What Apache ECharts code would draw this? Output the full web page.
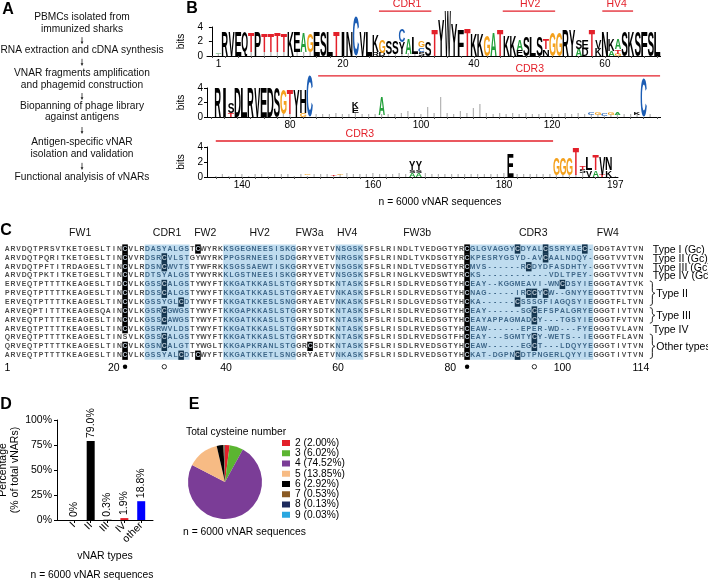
<!DOCTYPE html>
<html><head><meta charset="utf-8">
<script src="https://cdn.jsdelivr.net/npm/echarts@6/dist/echarts.min.js"></script>
<style>html,body{margin:0;padding:0;background:#fff}#c{width:708px;height:581px}</style>
</head><body><div id="c"></div>
<script>
// ================= DATA =================
// Panel A – workflow steps
const flowSteps = [
  ['PBMCs isolated from', 'immunized sharks'],
  ['RNA extraction and cDNA synthesis'],
  ['VNAR fragments amplification', 'and phagemid construction'],
  ['Biopanning of phage library', 'against antigens'],
  ['Antigen-specific vNAR', 'isolation and validation'],
  ['Functional analyisis of vNARs']
];

// Panel B – sequence logo, letters stacked bottom->top as "letter:bits" ("~" = low-information residues)
const logoRow1 = [
 "~:0.3 A:0.2","R:3.35","V:3.35","E:3.35","Q:3.35","~:0.6 T:2.6","P:3.35","~:0.6 T:2.5","~:0.6 T:2.5","~:0.5 T:2.6",
 "~:0.6 T:2.5","K:3.35","~:0.5 E:2.8","~:0.5 A:2.6","~:0.5 G:2.6","E:3.35","S:3.35","L:3.35","T:3.35","I:3.35",
 "N:3.35","C:5.5","V:3.35","L:3.35","R:0.5 K:2.25","D:0.45 G:1.85","~:0.3 S:1.8","~:0.3 S:1.8","~:0.3 Y:1.6 C:1.8","~:0.3 A:2.2",
 "~:0.3 L:2.2","S:0.6 C:0.6 G:0.9","S:2.0","T:3.6","Y:4.9","W:6.1","Y:4.4","F:3.5","T:3.7","K:3.0",
 "K:3.0","G:2.8","A:3.2","T:3.5","K:2.9","K:2.9","E:0.8 A:1.5","S:2.7","L:2.7","S:2.7",
 "N:0.9 T:1.4","G:3.2","G:3.2","R:3.5","Y:3.5","A:1.0 S:1.3","D:1.0 E:1.3","T:3.5","K:1.0 V:1.3","N:3.35",
 "A:0.7 K:1.6","G:0.3 T:0.6 A:1.4","S:3.35","K:3.35","S:3.35","F:3.35","S:3.35","L:3.35"
];
const logoRow2 = [
 "R:4.1","I:4.1","T:0.5 S:1.5","D:4.1","L:4.1","R:4.1","V:4.1","E:4.1","D:4.1","S:4.1",
 "~:0.3 G:3.4","~:0.4 T:3.3","Y:3.7","G:0.5 H:3.2","C:5.6","~:0.4","~:0.3","~:0.4","~:0.5","~:0.3",
 "~:0.4","~:0.5 E:0.7 K:0.9","~:0.3","~:0.4","~:0.3","~:0.3 A:2.5","~:0.4","~:0.3","~:0.6","~:0.9",
 "~:0.5","~:0.4","~:1.4","~:0.6","~:2.8","~:0.5","~:0.4","~:0.8","~:0.5","~:1.2",
 "~:1.8","~:0.6","~:0.4","~:0.5","~:0.3","~:0.6","~:0.4","~:0.5","~:0.3","~:0.4",
 "~:0.6","~:0.4","~:0.3","~:0.5","~:0.4","~:0.5","~:0.4","~:0.3 C:0.3","~:0.3 G:0.3","~:0.2 C:0.3",
 "~:0.3 G:0.4","~:0.3 A:0.3","~:0.4","~:0.3","~:0.3 K:0.4","C:5.3","~:0.3"
];
const logoRow3 = [
 "~:0.2","~:0.3","~:0.2","~:0.4","~:0.3","~:0.2","~:0.3","~:0.4","~:0.2","~:0.3",
 "~:0.3","~:0.4","~:0.2","~:0.3","~:0.2 G:0.2","~:0.3","~:0.4","~:0.3","~:0.2 T:0.2","~:0.3 G:0.2",
 "~:0.5","~:0.3","~:0.4","~:0.3","~:0.5","~:0.3","~:0.4","~:0.3","~:0.5","~:0.4",
 "A:0.5 S:0.4 Y:1.2","A:0.5 S:0.4 Y:1.2","~:0.5","~:0.4","~:0.3","~:0.4","~:0.3","~:0.4","~:0.3","~:0.3",
 "~:0.4","~:0.3","~:0.4","~:0.3","~:0.5","E:3.0","~:0.3","~:0.4","~:0.3","~:0.3",
 "~:0.4","~:0.3","~:0.3 G:2.3","~:0.3 G:2.3","~:0.3 G:2.2","~:0.3 T:3.7","~:0.5 S:0.5 T:0.5","V:0.9 L:1.7","A:0.9 T:2.1","T:0.3 V:2.3",
 "K:0.9 N:1.7","~:0.2"
];
const logoStart = [1, 69, 136];
const logoTickLabels = [[1, 20, 40, 60], [80, 100, 120], [140, 160, 180, 197]];
const logoRegionNames = [['CDR1', 'HV2', 'HV4'], ['CDR3'], ['CDR3']];
const logoRegionSpans = [[[25.5, 33.5, 29.8], [44.4, 52.4, 48.6], [59.6, 64.3, 61.8]], [[84.3, 136.5, 116.6]], [[136.0, 187.5, 158]]];

// Panel C – alignment
const alignmentRows = [
 "ARVDQTPRSVTKETGESLTINCVLRDASYALGSTCWYRKKSGEGNEESISKGGRYVETVNSGSKSFSLRINDLTVEDGGTYRCGLGVAGGYCDYALCSSRYAEC-GDGTAVTVN",
 "ARVDQTPQRITKETGESLTINCVVRDSRCVLSTGYWYRKPPGSRNEESISDGGRYVETVNRGSKSFSLRINDLTVKDSGTYRCKPESRYGSYD-AVCAALNDQY-GGGTVVTVN",
 "ARVDQTPFTITRDAGESLTINCVLRDSNCWVTSTYWFRKKSGSSAEWTISKGGRYVETVNSGSKSFSLRINDLTVEDSGTYRCMVS------RCDYDFASDHTY-GGGTVVTVN",
 "ARVDQTPKTITKETGESLTINCVLRDTSYALGSTYWYRKKLGSTNEESISKGGRYVETVNSGSKSFSLRINGLKVEDSWTYRCKS------------VDLTPEY-GGGTVVTVN",
 "ERVEQTPTTTTKEAGESLTIDCVLKGSSCALGSTYWYFTKKGATKKASLSTGGRYSDTKNTASKSFSLRISDLRVEDSGTYHCEAY--KGGMEAVI-WNCDSYIEGGGTAVTVK",
 "PRVEQTPTTTTKEAGESLTINCVLRDSSCALGSTYWYFTKKGATKKASLSTGGRYAETVNKASKSFSLRISDLRVEDSGTYHCNAG-----IRCCYCW--GNYYEGGGTTVTVN",
 "ERVEQTPTTTTKEAGESLTINCVLKGSSYGLCDTYWYFTKKGATKKESLSNGGRYAETVNKASKSFSLRISDLGVEDSGTYHCKA------CSSSGFIAGQSYIEGGGTFLTVN",
 "ARVEQPTITTTKEAGESQAINCVLKGSRCGWGSTYWYFTKKGAPKKASLSTGGRYSDTKNTASKSFSLRISDLRVEDSGTYHCEAY------SGCEFSPALGRYEGGGTIVTVN",
 "ARVEQTPTTTTEEAGESLTINCVLKGSSCAWGSTYWYFTKKGATKKASLSTGGRYSDTKNTASKSFSLRISDLRLEDSGTYHCEAYAPPAGMADCY---TGSYIEGGGTFVTVN",
 "ARVEQTPTTTTKEAGESLTINCVLKGSRWVLDSTYWYFTKKGATKKASLSTGGRYSDTKNTASKSFSLRISDLRVEDSGTYHCEAW------EPER-WD---FYEGGGTVLAVN",
 "QRVEQTPTTTTKEAGESLTINSVLKGSSCALGSTYWYFTKKGATKKASLSTGGRYSDTKNTASKSFSLRISDLRVEDSGTFHCEAY---SGMTYCY-WETS--IEGGGTFLAVN",
 "QRVEQTPTTTTKEAGESLTINCVLKGSNCALGTTYWGLTKKGAPKRANLSTGGRCSDTKNTASKSFSLRISDLRVEDSGTYHCEAW------EGCT---LDQYYEGGGTIVTVN",
 "ARVEQTPTTTTKEAGESLTINCVLKGSSYALCDTCWYFTKKGATKKETLSNGGRYAETVNKASKSFSLRISDLRVEDSGTYHCKAT-DGPNCDTPNGERLQYYIEGGGTIVTVN"
];
const alignmentTypeLabels = ['Type I (Gc)', 'Type II (Gc)', 'Type III (Gc)', 'Type IV (Gc)', 'Type II', 'Type III', 'Type IV', 'Other types'];
const alignmentTypeRows = [[1, 1], [2, 2], [3, 3], [4, 4], [5, 7], [8, 9], [10, 10], [11, 13]];
const regionHeaders = ['FW1', 'CDR1', 'FW2', 'HV2', 'FW3a', 'HV4', 'FW3b', 'CDR3', 'FW4'];
const regionHeaderCols = [14, 29.5, 36.3, 46, 54.9, 61.6, 74.1, 94.8, 108.1];
const highlightRanges = [[26, 33], [40, 52], [60, 64], [84, 105]];
const alignmentTickLabels = [1, 20, 40, 60, 80, 100, 114];
const conservedCys = [22, 83];
const cdrCys = [29, 95];

// Panel D – vNAR types
const barCategories = ['I', 'II', 'III', 'IV', 'other'];
const barValues = [0, 79.0, 0.3, 1.9, 18.8];
const barLabels = ['0%', '79.0%', '0.3%', '1.9%', '18.8%'];

// Panel E – total cysteine number
const cysteineNumbers = ['2', '3', '4', '5', '6', '7', '8', '9'];
const cysteinePercents = [2.00, 6.02, 74.52, 13.85, 2.92, 0.53, 0.13, 0.03];

// ================= STYLE / LAYOUT =================
const FF = '"Liberation Sans", Arial, Helvetica, sans-serif';
const LOGO_FONT = 'bold 100px "Liberation Sans"';
const RES_FONT = 'bold 6.8px "Liberation Sans"';
const letterColor = ch => ({A: '#23a03b', G: '#f4a11d', T: '#e3202a', C: '#1c5db4', '~': '#b4b4b4'}[ch] || '#000');
const barColors = ['#000', '#000', '#000', '#e3202a', '#0000ff'];
const pieColors = ['#e3202a', '#5bb531', '#7b3d97', '#f7bb84', '#000000', '#8a5a24', '#1c2a5c', '#2aa7e0'];

const mctx = document.createElement('canvas').getContext('2d');
mctx.font = LOGO_FONT; mctx.textBaseline = 'middle'; mctx.textAlign = 'left';
const metricCache = {};
function metrics(ch) {
  if (!metricCache[ch]) {
    const m = mctx.measureText(ch);
    metricCache[ch] = {l: m.actualBoundingBoxLeft, w: m.actualBoundingBoxLeft + m.actualBoundingBoxRight,
      a: m.actualBoundingBoxAscent, h: m.actualBoundingBoxAscent + m.actualBoundingBoxDescent};
  }
  return metricCache[ch];
}

function buildLogo(stacks, start) {
  const vals = [], chars = [];
  stacks.forEach((s, i) => {
    let y = 0;
    s.split(' ').forEach(tok => {
      const [ch, h] = tok.split(':');
      vals.push([start + i, y, y + (+h)]); chars.push(ch); y += +h;
    });
  });
  return {vals, chars};
}

const logoGrids = [
  {left: 207, top: 27, width: 453.6, height: 29, min: -0.75, max: 68.5, lineBits: 6.2},
  {left: 207, top: 88, width: 453.6, height: 29, min: 67.33, max: 136.58, lineBits: 5.66},
  {left: 207, top: 147, width: 411, height: 30, min: 134.66, max: 197.41, lineBits: 4.8}
];
const logoData = [buildLogo(logoRow1, logoStart[0]), buildLogo(logoRow2, logoStart[1]), buildLogo(logoRow3, logoStart[2])];

const grids = [], xAxes = [], yAxes = [], series = [];
const axisBlack = {lineStyle: {color: '#000', width: 1}};

logoGrids.forEach((g, r) => {
  grids.push({left: g.left, top: g.top, width: g.width, height: g.height, outerBoundsMode: 'none', containLabel: false});
  const ticks = [];
  for (let v = Math.ceil(g.min / 2) * 2; v <= g.max; v += 2) ticks.push(v);
  xAxes.push({type: 'value', gridIndex: r, min: g.min, max: g.max,
    axisLine: {show: true, ...axisBlack, onZero: false},
    axisTick: {show: true, customValues: ticks, length: 2, lineStyle: {color: '#555'}},
    axisLabel: {customValues: logoTickLabels[r], fontSize: 10, color: '#000', margin: 3, fontFamily: FF},
    splitLine: {show: false}});
  yAxes.push({type: 'value', gridIndex: r, min: 0, max: 4, interval: 2,
    axisLine: {show: true, ...axisBlack}, axisTick: {show: true, length: 3, lineStyle: {color: '#000'}},
    axisLabel: {fontSize: 10, color: '#000', margin: 4, fontFamily: FF}, splitLine: {show: false},
    name: 'bits', nameLocation: 'middle', nameGap: 9, nameTextStyle: {fontSize: 10, color: '#000', fontFamily: FF}});
  const ld = logoData[r];
  series.push({type: 'custom', xAxisIndex: r, yAxisIndex: r, silent: true, clip: false,
    data: ld.vals,
    renderItem: (params, api) => {
      const ch = ld.chars[params.dataIndex];
      const pos = api.value(0), y0 = api.value(1), y1 = api.value(2);
      const hw = ch === '~' ? 0.1 : (ch === 'I' ? 0.22 : 0.47);
      const p0 = api.coord([pos - hw, y0]), p1 = api.coord([pos + hw, y1]);
      const W = p1[0] - p0[0], H = p0[1] - p1[1];
      if (H < 0.2) return;
      const glyph = ch === '~' ? 'I' : ch;
      const m = metrics(glyph);
      const sx = W / m.w, sy = H / m.h;
      return {type: 'text', x: p0[0] + m.l * sx, y: p1[1] + m.a * sy, scaleX: sx, scaleY: sy,
        style: {text: glyph, font: LOGO_FONT, fill: letterColor(ch), align: 'left', verticalAlign: 'middle'}};
    }});
  const spans = logoRegionSpans[r], names = logoRegionNames[r];
  series.push({type: 'custom', xAxisIndex: r, yAxisIndex: r, silent: true, clip: false,
    data: spans.map(s => [s[0], s[1], s[2]]),
    renderItem: (params, api) => {
      const a = api.coord([api.value(0), g.lineBits]), b = api.coord([api.value(1), g.lineBits]);
      const t = api.coord([api.value(2), g.lineBits]);
      return {type: 'group', children: [
        {type: 'line', shape: {x1: a[0], y1: a[1], x2: b[0], y2: b[1]}, style: {stroke: '#e3202a', lineWidth: 1.3}},
        {type: 'text', x: t[0], y: t[1] - 6.5, style: {text: names[params.dataIndex], font: '10.5px ' + FF, fill: '#e3202a', align: 'center', verticalAlign: 'middle'}}
      ]};
    }});
});

// ---- Panel C grid (index 3)
const NROW = alignmentRows.length;
grids.push({left: 4.5, top: 244.6, width: 639.2, height: 115.05, outerBoundsMode: 'none', containLabel: false});
xAxes.push({type: 'value', gridIndex: 3, min: 0.5, max: 114.5, axisLine: {show: false}, axisTick: {show: false},
  axisLabel: {customValues: alignmentTickLabels, fontSize: 10.5, color: '#000', margin: 3, fontFamily: FF}, splitLine: {show: false}});
yAxes.push({type: 'value', gridIndex: 3, min: 0.5, max: NROW + 0.5, inverse: true, show: false, splitLine: {show: false}});
const inHL = col => highlightRanges.some(([a, b]) => col >= a && col <= b);
series.push({type: 'custom', xAxisIndex: 3, yAxisIndex: 3, silent: true, z: 1, data: highlightRanges,
  renderItem: (params, api) => {
    const p0 = api.coord([api.value(0) - 0.5, 0.5]), p1 = api.coord([api.value(1) + 0.5, NROW + 0.5]);
    return {type: 'rect', shape: {x: p0[0], y: p0[1], width: p1[0] - p0[0], height: p1[1] - p0[1]}, style: {fill: '#bfdcef'}};
  }});
series.push({type: 'custom', xAxisIndex: 3, yAxisIndex: 3, silent: true, z: 2,
  data: alignmentRows.map((s, i) => [i + 1]),
  renderItem: (params, api) => {
    const r = api.value(0), s = alignmentRows[r - 1];
    const sz = api.size([1, 1]); const cw = Math.abs(sz[0]), rh = Math.abs(sz[1]);
    const children = [];
    for (let i = 0; i < s.length; i++) {
      const col = i + 1, ch = s[i], p = api.coord([col, r]);
      const hl = inHL(col);
      if (ch === 'C') children.push({type: 'rect', shape: {x: p[0] - cw / 2, y: p[1] - rh / 2 - 0.2, width: cw, height: rh + 0.4}, style: {fill: hl ? '#14354f' : '#000'}});
      children.push({type: 'text', x: p[0], y: p[1], style: {text: ch, font: RES_FONT, fill: ch === 'C' ? '#b9c6d2' : (hl ? '#3d6688' : '#4a4a4a'), align: 'center', verticalAlign: 'middle'}});
    }
    return {type: 'group', children};
  }});
series.push({type: 'custom', xAxisIndex: 3, yAxisIndex: 3, silent: true, clip: false,
  data: regionHeaderCols.map(c => [c]),
  renderItem: (params, api) => {
    const p = api.coord([api.value(0), -0.81]);
    return {type: 'text', x: p[0], y: p[1], style: {text: regionHeaders[params.dataIndex], font: '10.5px ' + FF, fill: '#111', align: 'center', verticalAlign: 'middle'}};
  }});
series.push({type: 'custom', xAxisIndex: 3, yAxisIndex: 3, silent: true, clip: false,
  data: alignmentTypeRows,
  renderItem: (params, api) => {
    const a = api.value(0), b = api.value(1);
    const yt = api.coord([115.6, a - 0.38]), yb = api.coord([115.6, b + 0.38]);
    const x0 = yt[0], ym = (yt[1] + yb[1]) / 2, w = 5;
    const children = [];
    let tx = x0 + 3;
    if (b > a) {
      const t = yt[1], bo = yb[1];
      children.push({type: 'polyline', shape: {points: [[x0, t], [x0 + w * 0.4, t + 0.8], [x0 + w * 0.5, t + 2.5], [x0 + w * 0.5, ym - 2.5], [x0 + w * 0.65, ym - 0.8], [x0 + w, ym], [x0 + w * 0.65, ym + 0.8], [x0 + w * 0.5, ym + 2.5], [x0 + w * 0.5, bo - 2.5], [x0 + w * 0.4, bo - 0.8], [x0, bo]], smooth: 0.35}, style: {stroke: '#000', lineWidth: 0.9, fill: null}});
      tx = x0 + w + 1.5;
    }
    children.push({type: 'text', x: tx, y: ym + 1, style: {text: alignmentTypeLabels[params.dataIndex], font: '10.5px ' + FF, fill: '#000', align: 'left', verticalAlign: 'middle'}});
    return {type: 'group', children};
  }});
series.push({type: 'custom', xAxisIndex: 3, yAxisIndex: 3, silent: true, clip: false,
  data: conservedCys.map(c => [c, 0]).concat(cdrCys.map(c => [c, 1])),
  renderItem: (params, api) => {
    const p = api.coord([api.value(0), NROW + 1.3]);
    const open = api.value(1) === 1;
    return {type: 'circle', shape: {cx: p[0], cy: p[1], r: 2.2}, style: open ? {fill: '#fff', stroke: '#000', lineWidth: 0.8} : {fill: '#000'}};
  }});

// ---- Panel D grid (index 4)
grids.push({left: 57, top: 420, width: 96, height: 100, outerBoundsMode: 'none', containLabel: false});
xAxes.push({type: 'value', gridIndex: 4, min: 0, max: 5.7,
  axisLine: {show: true, ...axisBlack, onZero: false},
  axisTick: {show: true, customValues: [1, 2, 3, 4, 5], length: 3, lineStyle: {color: '#000'}},
  axisLabel: {customValues: [1, 2, 3, 4, 5], formatter: v => barCategories[Math.round(v) - 1], rotate: 45, fontSize: 10.5, color: '#000', margin: 4, fontFamily: FF},
  splitLine: {show: false},
  name: 'vNAR types', nameLocation: 'middle', nameGap: 31, nameTextStyle: {fontSize: 10.5, color: '#000', fontFamily: FF}});
yAxes.push({type: 'value', gridIndex: 4, min: 0, max: 100, interval: 25,
  axisLine: {show: true, ...axisBlack}, axisTick: {show: true, length: 3, lineStyle: {color: '#000'}},
  axisLabel: {formatter: '{value}%', fontSize: 10.5, color: '#000', margin: 5, fontFamily: FF}, splitLine: {show: false},
  name: 'Percentage\n(% of total vNARs)', nameLocation: 'middle', nameGap: 34, nameRotate: 90,
  nameTextStyle: {fontSize: 10.5, color: '#000', lineHeight: 12, fontFamily: FF}});
series.push({type: 'bar', xAxisIndex: 4, yAxisIndex: 4, barWidth: 8, silent: true,
  data: barValues.map((v, i) => ({value: [i + 1, v], itemStyle: {color: barColors[i]}})),
  label: {show: true, position: 'top', rotate: 90, align: 'left', verticalAlign: 'middle', distance: 3,
    formatter: p => barLabels[p.dataIndex], fontSize: 10.5, color: '#000', fontFamily: FF}});

// ---- Panel E pie
const pieData = cysteineNumbers.map((n, i) => ({name: n + ' (' + cysteinePercents[i].toFixed(2) + '%)', value: cysteinePercents[i], itemStyle: {color: pieColors[i]}}));
series.push({type: 'pie', center: [225, 482], radius: 37, startAngle: 90, clockwise: true, silent: true,
  label: {show: false}, labelLine: {show: false}, data: pieData, emphasis: {disabled: true}, itemStyle: {borderWidth: 0}});

// ---- graphic texts
const graphics = [];
const panelLetter = (t, x, y) => graphics.push({type: 'text', x, y, style: {text: t, font: 'bold 16px ' + FF, fill: '#000', align: 'center', verticalAlign: 'middle'}});
panelLetter('A', 8, 10); panelLetter('B', 192, 9); panelLetter('C', 6, 231); panelLetter('D', 6, 405); panelLetter('E', 194, 405);
const flowY = [[16.7, 29.3], [50], [72.7, 85], [106, 117.3], [141.7, 154], [176.7]];
flowSteps.forEach((lines, i) => {
  lines.forEach((ln, j) => graphics.push({type: 'text', x: 82, y: flowY[i][j], style: {text: ln, font: '10.2px ' + FF, fill: '#111', align: 'center', verticalAlign: 'middle'}}));
  if (i < flowSteps.length - 1) {
    const ya = (flowY[i][flowY[i].length - 1] + flowY[i + 1][0]) / 2 + 1;
    graphics.push({type: 'line', shape: {x1: 82, y1: ya - 3.5, x2: 82, y2: ya + 2}, style: {stroke: '#222', lineWidth: 0.8}});
    graphics.push({type: 'polygon', shape: {points: [[80.6, ya + 0.8], [83.4, ya + 0.8], [82, ya + 3.6]]}, style: {fill: '#222'}});
  }
});
const smallText = (t, x, y, align) => graphics.push({type: 'text', x, y, style: {text: t, font: '10.3px ' + FF, fill: '#000', align: align || 'center', verticalAlign: 'middle'}});
smallText('n = 6000 vNAR sequences', 440, 202);
smallText('n = 6000 vNAR sequences', 92, 575);
smallText('n = 6000 vNAR sequences', 244.5, 532);
smallText('Total cysteine number', 186, 432, 'left');

const option = {
  animation: false,
  backgroundColor: '#fff',
  textStyle: {fontFamily: FF},
  grid: grids, xAxis: xAxes, yAxis: yAxes, series,
  legend: {data: pieData.map(d => d.name), orient: 'vertical', left: 282, top: 438, padding: 0,
    itemWidth: 8, itemHeight: 6, itemGap: 0.25, icon: 'rect', selectedMode: false,
    textStyle: {fontSize: 10.2, color: '#000', lineHeight: 10, fontFamily: FF}},
  graphic: graphics
};
const chart = echarts.init(document.getElementById('c'), null, {renderer: 'canvas', width: 708, height: 581});
chart.setOption(option);
</script></body></html>
